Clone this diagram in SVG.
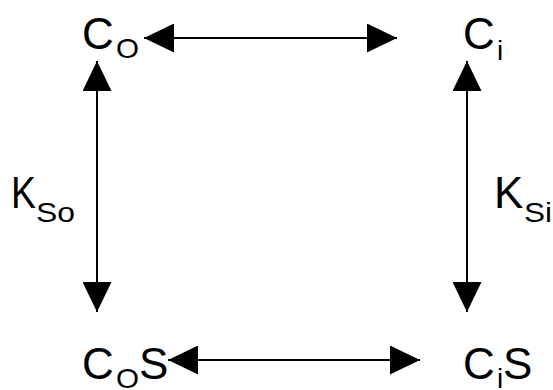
<svg xmlns="http://www.w3.org/2000/svg" width="553" height="390" viewBox="0 0 553 390">
<style>
text{font-family:"Liberation Sans",Arial,sans-serif;fill:#000}
.m{font-size:44px}
.s{font-size:28px}
.c{stroke:#000;stroke-width:2;fill:none}
</style>
<defs>
<marker id="ah" markerUnits="userSpaceOnUse" markerWidth="30" markerHeight="29" refX="30" refY="14.5" orient="auto-start-reverse" viewBox="0 0 30 29">
<path d="M0,0 L30,14.5 L0,29 z" fill="#000"/>
</marker>
</defs>
<rect width="553" height="390" fill="#fff"/>
<g id="connectors">
<line class="c" x1="144" y1="38" x2="397" y2="38" marker-start="url(#ah)" marker-end="url(#ah)"/>
<line class="c" x1="168" y1="360" x2="420" y2="360" marker-start="url(#ah)" marker-end="url(#ah)"/>
<line class="c" x1="97" y1="61" x2="97" y2="312" marker-start="url(#ah)" marker-end="url(#ah)"/>
<line class="c" x1="467" y1="61" x2="467" y2="312" marker-start="url(#ah)" marker-end="url(#ah)"/>
</g>
<g id="Co">
<text class="m" x="82" y="49">C</text><text class="s" x="116" y="58" textLength="23" lengthAdjust="spacingAndGlyphs">O</text>
</g>
<g id="Ci">
<text class="m" x="463" y="49">C</text><text class="s" x="497" y="60">i</text>
</g>
<g id="CoS">
<text class="m" x="82" y="379">C</text><text class="s" x="116" y="388" textLength="23" lengthAdjust="spacingAndGlyphs">O</text><text class="m" x="139" y="379">S</text>
</g>
<g id="CiS">
<text class="m" x="463" y="379">C</text><text class="s" x="497" y="388">i</text><text class="m" x="503" y="379">S</text>
</g>
<g id="KSo">
<text class="m" x="11" y="208" textLength="25" lengthAdjust="spacingAndGlyphs">K</text><text class="s" x="36" y="222" textLength="39" lengthAdjust="spacingAndGlyphs">So</text>
</g>
<g id="KSi">
<text class="m" x="494" y="208">K</text><text class="s" x="524" y="222" textLength="28" lengthAdjust="spacingAndGlyphs">Si</text>
</g>
</svg>
